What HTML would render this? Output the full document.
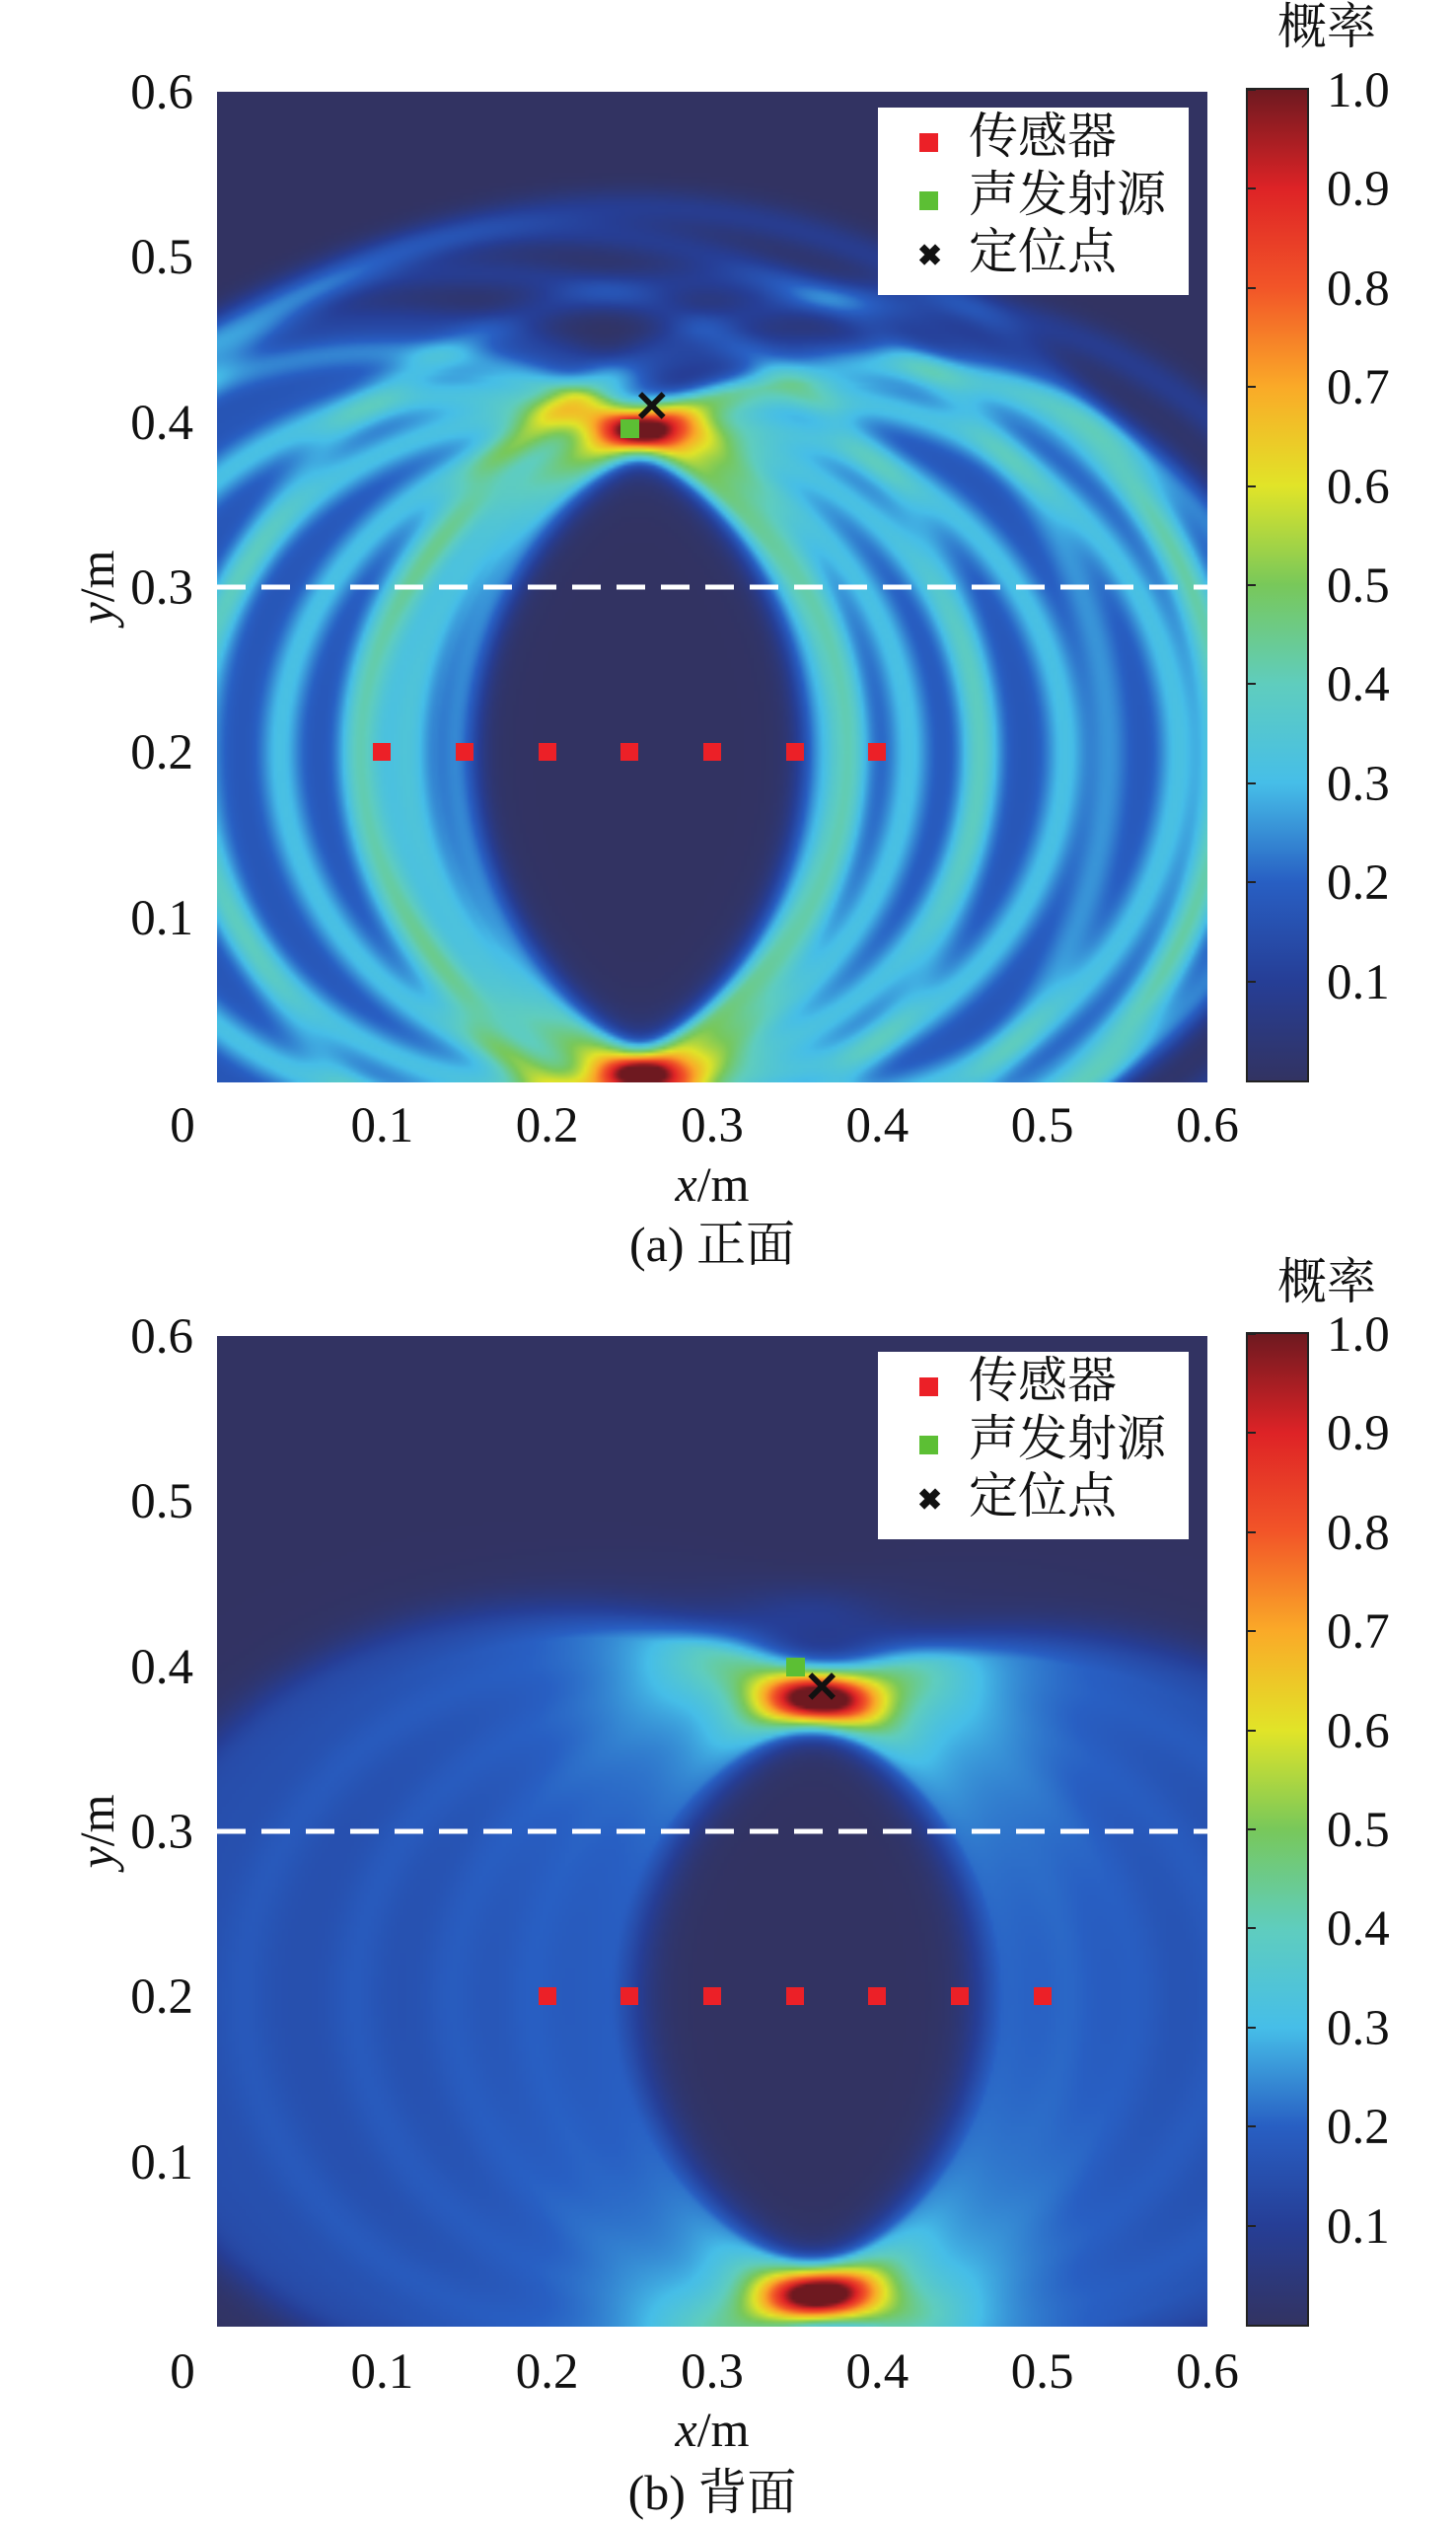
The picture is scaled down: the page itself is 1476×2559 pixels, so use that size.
<!DOCTYPE html>
<html><head><meta charset="utf-8">
<style>
body{margin:0;background:#fff;width:1476px;height:2559px;position:relative;overflow:hidden;font-family:"Liberation Serif","Noto Serif CJK SC",serif;color:#111}
.t{position:absolute;white-space:nowrap;line-height:1}
.tick{font-size:51px}
.ytick{width:100px;text-align:right;left:96px}
.xtick{transform:translateX(-50%)}
.cbl{font-size:51px;left:1345px}
.leg{position:absolute;background:#fff}
.legrow{position:absolute;left:0;width:100%;height:56px}
.legtxt{position:absolute;left:92px;font-size:50px;top:-6px;line-height:1;font-family:"Liberation Serif","Noto Serif CJK SC",serif}
.sq{position:absolute;width:19px;height:19px;left:42px;top:16px}
canvas{position:absolute}
.cb{position:absolute;left:1263px;width:60px;border:2px solid #222}
</style></head><body>

<script>
// ---------------- data ----------------
const xTicks=[0,0.1,0.2,0.3,0.4,0.5,0.6];
const xTickLabels=["0","0.1","0.2","0.3","0.4","0.5","0.6"];
const yTicks=[0.1,0.2,0.3,0.4,0.5,0.6];
const yTickLabels=["0.1","0.2","0.3","0.4","0.5","0.6"];
const cbTicks=[0.1,0.2,0.3,0.4,0.5,0.6,0.7,0.8,0.9,1.0];
const cbTickLabels=["0.1","0.2","0.3","0.4","0.5","0.6","0.7","0.8","0.9","1.0"];
// panel a
const sensorsAx=[0.10,0.15,0.20,0.25,0.30,0.35,0.40];
const sensorsAy=[0.2,0.2,0.2,0.2,0.2,0.2,0.2];
const ringRA=[0.244,0.216,0.203,0.196,0.198,0.215,0.234];
const ringR2A=[0.262,0.290,0.315,0.330,0.285,0.245,0.275];
const sourceA=[0.25,0.396];
const locateA=[0.262,0.41];
// panel b
const sensorsBx=[0.20,0.25,0.30,0.35,0.40,0.45,0.50];
const sensorsBy=[0.2,0.2,0.2,0.2,0.2,0.2,0.2];
const ringRB=[0.230,0.206,0.189,0.181,0.183,0.195,0.215];
const ringR2B=[0.275,0.250,0.235,0.228,0.232,0.245,0.265];
const sourceB=[0.35,0.40];
const locateB=[0.365,0.388];
// colormap stops
const cmapPos=[0,0.1,0.2,0.3,0.4,0.5,0.6,0.7,0.8,0.9,1.0];
const cmapR=[50,38,40,70,95,120,225,250,242,222,110];
const cmapG=[51,62,95,190,205,200,228,170,85,35,25];
const cmapB=[98,150,195,232,190,90,40,40,40,38,32];

const L=220,W=1004,X0=0,X1=0.6;
function sx(v){return L+(v-X0)/(X1-X0)*W;}
function syF(top){return v=>top+(0.6-v)/0.6*W;}

function cmap(v){v=Math.max(0,Math.min(1,v));
 let i=Math.min(cmapPos.length-2,Math.floor(v*10));let f=(v-cmapPos[i])/(cmapPos[i+1]-cmapPos[i]);
 return [cmapR[i]+(cmapR[i+1]-cmapR[i])*f,cmapG[i]+(cmapG[i+1]-cmapG[i])*f,cmapB[i]+(cmapB[i+1]-cmapB[i])*f];}

const root=document.body;
function el(tag,cls,style,text){const e=document.createElement(tag);if(cls)e.className=cls;if(style)e.style.cssText=style;if(text!=null)e.textContent=text;root.appendChild(e);return e;}

function panel(cfg){
 const top=cfg.top, sy=syF(top);
 const N=300;const cv=el('canvas','',`left:${L}px;top:${top}px;width:${W}px;height:${W}px`);
 
 
 cv.width=N;cv.height=N;const ctx=cv.getContext('2d');const img=ctx.createImageData(N,N);
 const n=cfg.sx.length;
 for(let j=0;j<N;j++){const y=0.6-(j+0.5)/N*0.6;
  for(let i=0;i<N;i++){const x=(i+0.5)/N*0.6;
   let S=0,k=0;
   for(let s=0;s<n;s++){const dx=(x-cfg.sx[s])/cfg.ax,dy=y-cfg.sy[s];const d=Math.sqrt(dx*dx+dy*dy);
    const e=d-cfg.r[s];S+=Math.exp(-e*e/(2*cfg.sig*cfg.sig));
    const e2=d-cfg.r2[s];S+=cfg.w2*Math.exp(-e2*e2/(2*cfg.sig2*cfg.sig2));
    k+=1/(1+Math.exp(-(cfg.r[s]-d)/0.008));}
   const T=Math.min(1,S/n);
   const a=Math.min(1,Math.max(0,k)),b=Math.min(1,Math.max(0,n-k));
   let v=cfg.plat*a*b+Math.pow(T,cfg.pw);
   const c=cmap(v);const p=(j*N+i)*4;img.data[p]=c[0];img.data[p+1]=c[1];img.data[p+2]=c[2];img.data[p+3]=255;}}
 ctx.putImageData(img,0,0);
 const ns='http://www.w3.org/2000/svg';
 const svg=document.createElementNS(ns,'svg');svg.setAttribute('width',W);svg.setAttribute('height',10);
 svg.style.cssText=`position:absolute;left:${L}px;top:${sy(0.3)-5}px`;
 const ln=document.createElementNS(ns,'line');ln.setAttribute('x1',0);ln.setAttribute('x2',W);ln.setAttribute('y1',5);ln.setAttribute('y2',5);
 ln.setAttribute('stroke','#fff');ln.setAttribute('stroke-width','5');ln.setAttribute('stroke-dasharray','29 16');
 
 
 svg.appendChild(ln);root.appendChild(svg);
 for(let s=0;s<n;s++){const m=el('div','',`position:absolute;width:18px;height:18px;background:#ec2027;left:${sx(cfg.sx[s])-9}px;top:${sy(cfg.sy[s])-9}px`);
  
  }
 const g=el('div','',`position:absolute;width:19px;height:19px;background:#5cbf34;left:${sx(cfg.src[0])-9}px;top:${sy(cfg.src[1])-9}px`);
 
 
 const xm=el('div','t',`left:${sx(cfg.loc[0])-16}px;top:${sy(cfg.loc[1])-24}px;font:bold 44px "Liberation Sans",sans-serif;color:#111`,'✕');
 
 
 const lg=el('div','leg',`left:890px;top:${top+16}px;width:315px;height:190px`);
 
 
 const rows=[['#ec2027','传感器'],['#5cbf34','声发射源'],['x','定位点']];
 rows.forEach((r,idx)=>{const row=document.createElement('div');row.className='legrow';row.style.top=(10+idx*58.5)+'px';
  
  
  if(r[0]==='x'){const s=document.createElement('div');s.style.cssText='position:absolute;left:40px;top:6px;line-height:1;font:bold 30px "Liberation Sans",sans-serif';s.textContent='✖';row.appendChild(s);}
  else{const s=document.createElement('div');s.className='sq';s.style.background=r[0];row.appendChild(s);}
  const t=document.createElement('div');t.className='legtxt';t.textContent=r[1];row.appendChild(t);lg.appendChild(row);});
 yTicks.forEach((v,i)=>{const t=el('div','t tick ytick',`top:${sy(v)-24}px`,yTickLabels[i]);
  
  });
 xTicks.forEach((v,i)=>{const xx=v===0?185:sx(v);const t=el('div','t tick xtick',`left:${xx}px;top:${cfg.xlabY-24}px`,xTickLabels[i]);
  
  });
 const yt=el('div','t',`left:98px;top:${sy(0.3)}px;font-size:50px;transform:translate(-50%,-50%) rotate(-90deg)`,'');
 yt.innerHTML='<i>y</i>/m';
 
 
 const xt=el('div','t',`left:722px;top:${cfg.xtitleY-25}px;font-size:50px;transform:translateX(-50%)`,'');
 xt.innerHTML='<i>x</i>/m';
 
 
 const cap=el('div','t',`left:722px;top:${cfg.capY-26}px;font-size:50px;transform:translateX(-50%)`,cfg.caption);
 
 
 const cb=el('div','cb',`top:${top-4}px;height:${W}px;background:linear-gradient(to bottom,${cmapPos.map((p,i)=>`rgb(${cmapR[10-i]},${cmapG[10-i]},${cmapB[10-i]}) ${p*100}%`).join(',')})`);
 
 
 cbTicks.forEach((v,i)=>{const yy=top-2+(1-v)*W;
  const tk=el('div','',`position:absolute;left:1265px;top:${yy-1}px;width:8px;height:2px;background:#222`);
  
  
  const t=el('div','t cbl',`top:${yy-24}px`,cbTickLabels[i]);
  
  });
 const ct=el('div','t',`left:1345px;top:${cfg.cbTitleY-26}px;font-size:50px;transform:translateX(-50%)`,'概率');
 
 
}
panel({id:'panel-a',top:93,ax:1.08,sx:sensorsAx,sy:sensorsAy,r:ringRA,r2:ringR2A,sig:0.008,sig2:0.008,w2:0.6,pw:1.0,plat:0.17,src:sourceA,loc:locateA,xlabY:1140,xtitleY:1200,capY:1262,caption:'(a) 正面',cbTitleY:28});
panel({id:'panel-b',top:1354,ax:1.15,sx:sensorsBx,sy:sensorsBy,r:ringRB,r2:ringR2B,sig:0.014,sig2:0.016,w2:0.3,pw:2.0,plat:0.15,src:sourceB,loc:locateB,xlabY:2403,xtitleY:2462,capY:2527,caption:'(b) 背面',cbTitleY:1300});
</script>
</body></html>
